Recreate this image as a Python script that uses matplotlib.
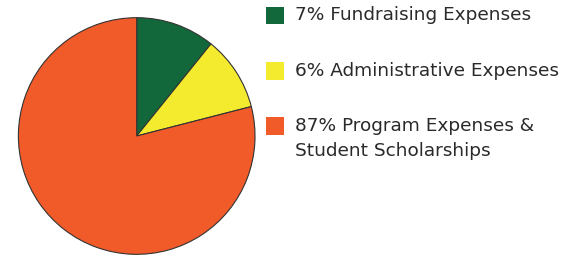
import matplotlib
matplotlib.use("Agg")
import matplotlib.pyplot as plt
from matplotlib.patches import Rectangle

# wedge sizes as drawn in the picture (labels carry the stated percentages)
shares = [10.8, 10.2, 79.0]
labels = ["7% Fundraising Expenses",
          "6% Administrative Expenses",
          "87% Program Expenses &\nStudent Scholarships"]
colors = ["#12683A", "#F4EA2E", "#F15A29"]

W, H = 566, 257
fig = plt.figure(figsize=(W / 100, H / 100), dpi=100)

# pie axes, square in pixels
cx, cy, r = 136.7, 136.0, 119.5
ax = fig.add_axes([(cx - r) / W, (H - cy - r) / H, 2 * r / W, 2 * r / H])
ax.pie(shares, colors=colors, startangle=90, counterclock=False,
       wedgeprops=dict(edgecolor="#333333", linewidth=0.8))
ax.set_xlim(-1.01, 1.01)
ax.set_ylim(-1.01, 1.01)
ax.set_aspect("equal")
ax.axis("off")

# legend drawn by hand
sq_top = [6.7, 62.0, 117.0]
for top, lab, col in zip(sq_top, labels, colors):
    fig.patches.append(Rectangle((266 / W, (H - top - 17.5) / H), 18 / W, 17.5 / H,
                                 transform=fig.transFigure, facecolor=col,
                                 edgecolor="none"))
    fig.text(295 / W, (H - top) / H + 0.001, lab, ha="left", va="top",
             fontsize=13.3, color="#2a2a2a", family="DejaVu Sans",
             linespacing=1.5)

fig.savefig("out.png", dpi=100)
